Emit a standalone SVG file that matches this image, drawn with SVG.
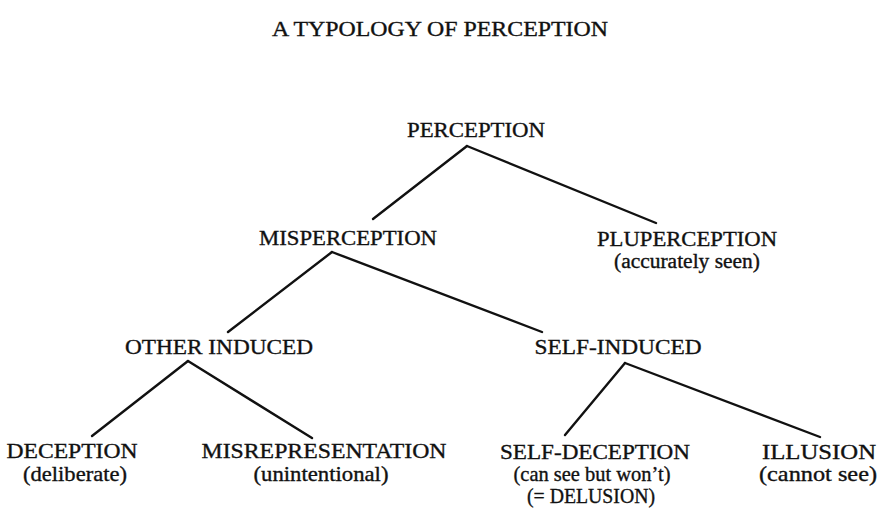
<svg xmlns="http://www.w3.org/2000/svg" width="880" height="508" viewBox="0 0 880 508">
<style>
text{font-family:"Liberation Serif","Times New Roman",serif;fill:#111;stroke:#111;stroke-width:0.35;text-anchor:middle}
.t{font-size:21px}
.m{font-size:22px}
.s{font-size:21px}
.s2{font-size:20px}
#connectors line{stroke:#111;stroke-width:2.4;stroke-linecap:round}
</style>
<rect width="880" height="508" fill="#fff"/>
<text class="t" x="440" y="36" textLength="336" lengthAdjust="spacingAndGlyphs">A TYPOLOGY OF PERCEPTION</text>
<g id="connectors">
<line x1="467" y1="146" x2="373" y2="219"/>
<line x1="467" y1="146" x2="656" y2="223"/>
<line x1="332" y1="252" x2="228" y2="332"/>
<line x1="332" y1="252" x2="542" y2="332"/>
<line x1="188" y1="361" x2="92" y2="436"/>
<line x1="188" y1="361" x2="312" y2="438"/>
<line x1="625" y1="363" x2="565" y2="435"/>
<line x1="625" y1="363" x2="820" y2="437"/>
</g>
<g id="perception"><text class="m" x="476" y="137" textLength="138" lengthAdjust="spacingAndGlyphs">PERCEPTION</text></g>
<g id="misperception"><text class="m" x="348" y="245" textLength="178" lengthAdjust="spacingAndGlyphs">MISPERCEPTION</text></g>
<g id="pluperception"><text class="m" x="687" y="246" textLength="180" lengthAdjust="spacingAndGlyphs">PLUPERCEPTION</text><text class="s2" x="687" y="268" textLength="146" lengthAdjust="spacingAndGlyphs">(accurately seen)</text></g>
<g id="other-induced"><text class="m" x="219" y="354" textLength="188" lengthAdjust="spacingAndGlyphs">OTHER INDUCED</text></g>
<g id="self-induced"><text class="m" x="618" y="354" textLength="167" lengthAdjust="spacingAndGlyphs">SELF-INDUCED</text></g>
<g id="deception"><text class="m" x="72" y="458" textLength="131" lengthAdjust="spacingAndGlyphs">DECEPTION</text><text class="s" x="75" y="481" textLength="104" lengthAdjust="spacingAndGlyphs">(deliberate)</text></g>
<g id="misrepresentation"><text class="m" x="324" y="458" textLength="245" lengthAdjust="spacingAndGlyphs">MISREPRESENTATION</text><text class="s" x="321" y="481" textLength="135" lengthAdjust="spacingAndGlyphs">(unintentional)</text></g>
<g id="self-deception"><text class="m" x="595" y="459" textLength="190" lengthAdjust="spacingAndGlyphs">SELF-DECEPTION</text><text class="s" x="592" y="481" textLength="157" lengthAdjust="spacingAndGlyphs">(can see but won’t)</text><text class="s" x="591" y="503" textLength="128" lengthAdjust="spacingAndGlyphs">(= DELUSION)</text></g>
<g id="illusion"><text class="m" x="819" y="459" textLength="114" lengthAdjust="spacingAndGlyphs">ILLUSION</text><text class="s" x="818" y="481" textLength="118" lengthAdjust="spacingAndGlyphs">(cannot see)</text></g>
</svg>
